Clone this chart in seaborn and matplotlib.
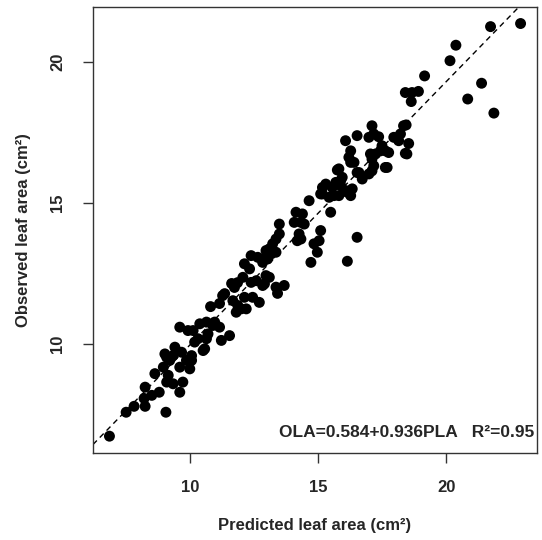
import numpy as np
import pandas as pd
import matplotlib
matplotlib.use("Agg")
import matplotlib.pyplot as plt
import seaborn as sns

# predicted (PLA) vs observed (OLA) leaf area, cm2
predicted = [
    6.87, 7.52, 7.83, 8.26, 8.26, 8.22, 8.52, 8.81, 9.07, 9.10,
    9.35, 9.61, 9.73, 8.64, 8.97, 9.10, 9.03, 9.22, 9.35, 9.16,
    9.42, 9.68, 9.61, 10.00, 10.07, 10.19, 10.32, 10.58, 10.71, 11.23,
    11.55, 9.61, 9.93, 10.13, 10.39, 10.65, 10.90, 11.16, 10.97, 10.81,
    11.16, 11.28, 11.36, 11.63, 11.86, 11.74, 12.13, 12.33, 12.39, 12.65,
    12.84, 13.17, 13.36, 12.07, 12.39, 12.59, 12.84, 13.10, 11.68, 11.87,
    12.13, 12.45, 12.71, 11.81, 12.00, 12.20, 13.42, 13.68, 15.10, 14.65,
    15.49, 15.81, 16.14, 14.14, 14.39, 14.07, 14.33, 14.46, 13.49, 14.26,
    14.33, 14.19, 13.49, 13.36, 13.23, 13.10, 12.97, 13.03, 12.84, 15.10,
    15.04, 14.84, 14.97, 14.72, 16.14, 16.52, 12.97, 12.91, 13.36, 18.33,
    17.95, 18.14, 18.53, 18.46, 18.21, 17.10, 17.17, 16.98, 17.36, 16.52,
    16.07, 17.49, 17.43, 17.24, 17.62, 17.75, 16.27, 16.20, 16.27, 16.40,
    17.10, 17.04, 17.62, 16.52, 16.72, 17.10, 16.98, 15.81, 15.94, 15.69,
    15.30, 15.17, 15.55, 15.88, 16.07, 16.33, 16.27, 15.62, 15.43, 15.17,
    20.14, 19.15, 18.40, 18.66, 18.91, 18.63, 20.83, 22.89, 21.72, 20.37,
    21.37, 21.85, 10.52, 10.65, 10.07, 9.87, 15.75, 15.88, 16.59, 17.17,
    17.69, 18.40, 18.43,
]
observed = [
    6.71, 7.56, 7.77, 7.77, 8.45, 8.05, 8.16, 8.27, 7.56, 8.63,
    8.57, 8.27, 8.63, 8.93, 9.16, 9.51, 9.63, 9.40, 9.57, 8.87,
    9.87, 9.69, 9.16, 9.10, 9.40, 10.05, 10.17, 9.81, 10.34, 10.11,
    10.28, 10.58, 10.46, 10.46, 10.70, 10.76, 10.64, 10.58, 10.76, 11.31,
    11.42, 11.70, 11.77, 12.13, 12.16, 11.99, 12.83, 12.65, 13.12, 13.06,
    13.00, 13.18, 13.24, 12.35, 12.17, 12.23, 12.06, 12.35, 11.52, 11.35,
    11.64, 11.64, 11.46, 11.11, 11.23, 11.23, 11.78, 12.06, 15.31, 15.07,
    14.66, 15.25, 15.37, 14.66, 14.60, 14.30, 14.30, 14.24, 14.24, 13.89,
    13.71, 13.65, 13.89, 13.71, 13.54, 13.36, 13.30, 13.00, 12.88, 14.01,
    13.65, 13.54, 13.24, 12.88, 12.92, 13.77, 12.41, 12.12, 12.00, 17.73,
    17.32, 17.20, 17.10, 16.73, 17.44, 17.73, 17.44, 17.32, 17.34, 17.38,
    17.20, 17.02, 16.84, 16.73, 16.84, 16.78, 16.84, 16.61, 16.43, 16.43,
    16.55, 16.73, 16.25, 16.07, 15.84, 16.13, 16.02, 16.20, 15.90, 15.72,
    15.66, 15.54, 15.54, 15.60, 15.43, 15.49, 15.25, 15.25, 15.19, 15.31,
    20.04, 19.50, 18.91, 18.91, 18.95, 18.59, 18.68, 21.36, 21.25, 20.59,
    19.24, 18.18, 9.75, 10.17, 9.57, 9.40, 16.16, 15.78, 16.07, 16.31,
    16.25, 16.75, 17.76,
]

intercept = 0.584
slope = 0.936
r2 = 0.95

df = pd.DataFrame({"PLA": predicted, "OLA": observed})

sns.set_style("ticks")
plt.rcParams["font.family"] = ["Liberation Sans", "DejaVu Sans"]
plt.rcParams["font.weight"] = "bold"

fig = plt.figure(figsize=(5.42, 5.40), dpi=100)
ax = fig.add_axes([0.1716, 0.1617, 0.8192, 0.8253])

sns.scatterplot(data=df, x="PLA", y="OLA", color="black", s=62,
                edgecolor="none", linewidth=0, ax=ax, zorder=3)
ax.axline((0, intercept), slope=slope, color="black", linestyle=(0, (4, 3)),
          linewidth=1.0, zorder=2)

# R style 4% padding around the data
xr = max(predicted) - min(predicted)
yr = max(observed) - min(observed)
ax.set_xlim(min(predicted) - 0.04 * xr, max(predicted) + 0.04 * xr)
ax.set_ylim(min(observed) - 0.04 * yr, max(observed) + 0.04 * yr)

ax.set_xticks([10, 15, 20])
ax.set_yticks([10, 15, 20])
ax.tick_params(axis="both", length=7, width=1, color="#333333",
               labelsize=12, pad=13)
for lab in ax.get_yticklabels():
    lab.set_rotation(90)
    lab.set_va("center")
for lab in ax.get_xticklabels() + ax.get_yticklabels():
    lab.set_fontweight("bold")

for sp in ax.spines.values():
    sp.set_color("#333333")
    sp.set_linewidth(1.0)

ax.set_xlabel("Predicted leaf area (cm²)", fontsize=12, fontweight="bold",
              labelpad=16)
ax.set_ylabel("Observed leaf area (cm²)", fontsize=12, fontweight="bold",
              labelpad=14)

ax.text(0.993, 0.045, f"OLA={intercept}+{slope}PLA   R²={r2}",
        transform=ax.transAxes, ha="right", va="center", fontsize=12.5,
        fontweight="bold")

fig.savefig("out.png", dpi=100)
